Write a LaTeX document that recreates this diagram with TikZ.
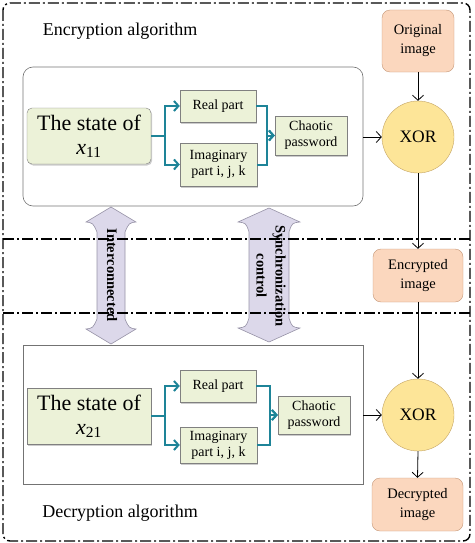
\documentclass[tikz,border=0pt]{standalone}
\usepackage{fontspec}
\setmainfont{Liberation Serif}
\usetikzlibrary{arrows.meta,shadows,positioning}

\definecolor{boxgreen}{RGB}{236,242,216}
\definecolor{edgegreen}{RGB}{178,192,134}
\definecolor{imgorange}{RGB}{251,215,190}
\definecolor{imgedge}{RGB}{196,150,118}
\definecolor{xoryellow}{RGB}{253,229,152}
\definecolor{xoredge}{RGB}{196,164,100}
\definecolor{linkteal}{RGB}{30,132,152}
\definecolor{syncfill}{RGB}{220,216,234}
\definecolor{syncedge}{RGB}{150,146,166}

% light face with a darker rim
\pgfdeclareradialshading{bevelgreen}{\pgfpoint{0bp}{0bp}}{%
    color(0bp)=(boxgreen); color(36bp)=(boxgreen);
    color(47bp)=(edgegreen); color(72bp)=(edgegreen)}

\tikzset{
    partbox/.style={draw=black!50, shading=bevelgreen,
        drop shadow={shadow xshift=1.2pt, shadow yshift=-1.5pt, opacity=.4},
        align=center, inner sep=0pt, font=\fontsize{14}{16}\selectfont},
    statebox/.style={partbox, minimum width=124pt, minimum height=56pt,
        font=\fontsize{22}{24}\selectfont},
    imgbox/.style={draw=imgedge, fill=imgorange, rounded corners=8pt, align=center,
        inner sep=0pt, font=\fontsize{14.5}{19}\selectfont},
    xorcircle/.style={circle, draw=xoredge, fill=xoryellow, minimum size=72pt,
        inner sep=0pt, font=\fontsize{17.5}{20}\selectfont},
    algobox/.style={draw=black!55, line width=.6pt, inner sep=0pt,
        minimum width=340pt},
    tealline/.style={draw=linkteal, line width=2pt,
        -{Straight Barb[length=4.5pt, width=10pt, line width=2pt]}},
    blackline/.style={draw=black, line width=.8pt,
        -{Straight Barb[length=5pt, width=11pt, line width=.8pt]}},
    syncarrow/.style={draw=syncedge, fill=syncfill, line width=.6pt},
    frameline/.style={draw=black, line width=1.4pt,
        dash pattern=on 11pt off 3pt on 2pt off 3pt}
}

\begin{document}
\begin{tikzpicture}[x=1pt, y=-1pt]
    \useasboundingbox (0,0) rectangle (474,543);

    % the two double arrows between both systems
    \draw[syncarrow] (111,207) -- (86,222) .. controls (93,223) .. (97,232)
        -- (97,319) .. controls (93,328) .. (86,329) -- (111,344)
        -- (136,329) .. controls (129,328) .. (125,319)
        -- (125,232) .. controls (129,223) .. (136,222) -- cycle;
    \draw[syncarrow] (269,208) -- (238,222) .. controls (246,223) .. (249,232)
        -- (249,318) .. controls (246,327) .. (238,328) -- (269,342)
        -- (300,328) .. controls (292,327) .. (289,318)
        -- (289,232) .. controls (292,223) .. (300,222) -- cycle;

    % frame
    \draw[frameline, rounded corners=7pt] (3,3) rectangle (470,541);
    \draw[frameline] (3,239) -- (470,239);
    \draw[frameline] (3,313) -- (470,313);

    \node[rotate=-90, font=\bfseries\fontsize{14.5}{16}\selectfont] (link) at (112,275) {Interconnected};
    \node[rotate=-90, align=center, font=\bfseries\fontsize{14.5}{19}\selectfont] (sync) at (271,276) {Synchronization\\control};

    % encryption algorithm
    \node[font=\fontsize{18}{20}\selectfont] (enc) at (120,31) {Encryption algorithm};
    \node[algobox, rounded corners=10pt, minimum height=139pt] (boxA) at (193,136.5) {};
    \node[statebox, rounded corners=5pt] (stateA) at (89,136) {The state of\\\textit{x}\textsubscript{11}};
    \node[partbox, minimum width=76pt, minimum height=32pt] (realA) at (218,106) {Real part};
    \node[partbox, minimum width=77pt, minimum height=43pt] (imagA) at (218.5,164.5) {Imaginary\\part i, j, k};
    \node[partbox, minimum width=72pt, minimum height=39pt] (chaosA) at (311,135.5) {Chaotic\\password};
    \node[xorcircle] (xorA) at (418,137) {XOR};
    \node[imgbox, minimum width=72pt, minimum height=62pt] (orig) at (418,41) {Original\\image};

    \draw[tealline] (stateA.east) -- ++(14,0) |- (realA.west);
    \draw[tealline] (stateA.east) -- ++(14,0) |- (imagA.west);
    \draw[tealline] (realA.east) -| ([xshift=-8pt]chaosA.west) -- (chaosA.west);
    \draw[tealline] (imagA.east) -| ([xshift=-8pt]chaosA.west) -- (chaosA.west);
    \draw[blackline] (boxA.east |- xorA.west) -- (xorA.west);
    \draw[blackline] (orig.south) -- (xorA.north);

    % transmission
    \node[imgbox, minimum width=90pt, minimum height=53pt] (encimg) at (418,275.5) {Encrypted\\image};
    \draw[blackline] (xorA.south) -- (encimg.north);

    % decryption algorithm
    \node[algobox, minimum height=139pt] (boxB) at (193,414.5) {};
    \node[statebox] (stateB) at (89,416) {The state of\\\textit{x}\textsubscript{21}};
    \node[partbox, minimum width=76pt, minimum height=32pt] (realB) at (218,386) {Real part};
    \node[partbox, minimum width=77pt, minimum height=36pt] (imagB) at (218.5,445) {Imaginary\\part i, j, k};
    \node[partbox, minimum width=72pt, minimum height=38pt] (chaosB) at (314,415) {Chaotic\\password};
    \node[xorcircle] (xorB) at (418,415) {XOR};
    \node[imgbox, minimum width=91pt, minimum height=53pt] (decimg) at (417.5,504.5) {Decrypted\\image};
    \node[font=\fontsize{18}{20}\selectfont] (dec) at (120,513) {Decryption algorithm};

    \draw[tealline] (stateB.east) -- ++(14,0) |- (realB.west);
    \draw[tealline] (stateB.east) -- ++(14,0) |- (imagB.west);
    \draw[tealline] (realB.east) -| ([xshift=-8pt]chaosB.west) -- (chaosB.west);
    \draw[tealline] (imagB.east) -| ([xshift=-8pt]chaosB.west) -- (chaosB.west);
    \draw[blackline] (boxB.east |- xorB.west) -- (xorB.west);
    \draw[blackline] (encimg.south) -- (xorB.north);
    \draw[blackline] (xorB.south) -- (decimg.north);
\end{tikzpicture}
\end{document}
